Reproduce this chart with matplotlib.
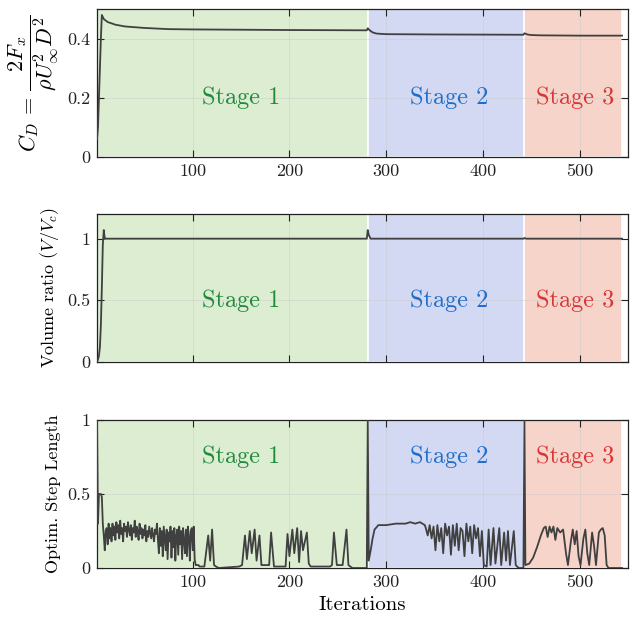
import matplotlib
matplotlib.use("agg")
import numpy as np
import matplotlib.pyplot as plt

plt.rcParams['font.family'] = 'serif'
plt.rcParams['font.serif'] = ['cmr10']
plt.rcParams['mathtext.fontset'] = 'cm'
plt.rcParams['axes.formatter.use_mathtext'] = True

# stage limits (iterations)
stages = [(1, 281), (281, 443), (443, 544)]
stage_names = ['Stage 1', 'Stage 2', 'Stage 3']
stage_text_x = [150, 365, 495]

# drag coefficient
cd_it = [1, 2, 3, 4, 5, 6, 8, 12, 20, 30, 50, 75, 100, 150, 200, 280,
         281, 283, 286, 290, 300, 350, 442,
         443, 446, 450, 460, 500, 544]
cd_val = [0.06, 0.10, 0.20, 0.30, 0.40, 0.48, 0.466, 0.456, 0.447, 0.441, 0.436, 0.432, 0.431, 0.430, 0.429, 0.428,
          0.435, 0.428, 0.421, 0.417, 0.415, 0.414, 0.413,
          0.418, 0.414, 0.412, 0.411, 0.410, 0.410]

# volume ratio
vol_it = [1, 2, 3, 4, 5, 6, 7, 8, 9, 10, 280, 281, 282, 284, 286, 442, 443, 445, 544]
vol_val = [0.0, 0.02, 0.05, 0.12, 0.30, 0.60, 0.95, 1.07, 1.0, 1.0, 1.0, 1.07, 1.03, 1.0, 1.0, 1.0, 1.005, 1.0, 1.0]

# optimiser step length, stage 1 (iterations 1..107)
step_s1 = [1.0, 0.30, 0.50, 0.50, 0.50, 0.48, 0.30, 0.22, 0.12, 0.25,
           0.27, 0.16, 0.30, 0.20, 0.27, 0.18, 0.30, 0.22, 0.28, 0.19,
           0.31, 0.24, 0.29, 0.20, 0.32, 0.23, 0.27, 0.18, 0.30, 0.25,
           0.28, 0.21, 0.31, 0.26, 0.22, 0.29, 0.19, 0.27, 0.24, 0.32,
           0.21, 0.28, 0.25, 0.19, 0.30, 0.23, 0.27, 0.20, 0.26, 0.22,
           0.29, 0.18, 0.25, 0.21, 0.28, 0.24, 0.20, 0.27, 0.22, 0.18,
           0.26, 0.23, 0.30, 0.19,
           0.10, 0.27, 0.15, 0.25, 0.08, 0.28, 0.20, 0.12, 0.26, 0.06,
           0.24, 0.18, 0.28, 0.07, 0.25, 0.14, 0.27, 0.05, 0.22, 0.26,
           0.09, 0.28, 0.16, 0.25, 0.06, 0.27, 0.19, 0.10, 0.26, 0.08,
           0.28, 0.21, 0.05, 0.25, 0.27, 0.12,
           0.28, 0.06, 0.02, 0.02, 0.02, 0.02, 0.01]
# rest of the step length history (iteration, value)
step_it = [112, 116, 118, 120, 122, 124, 127, 148,
           151, 154, 156, 159, 161, 164, 166, 169, 171, 175, 179, 181, 184, 196,
           198, 200, 203, 205, 208, 210, 212, 214, 218, 220, 222, 242,
           244, 246, 249, 255, 259, 261, 265, 280,
           281, 282, 284, 286, 288, 292, 300, 310, 320, 325, 330, 335, 340,
           341, 343, 345, 347, 349, 351, 353, 355, 357, 359, 361, 363, 365, 367, 369,
           371, 373, 375, 377, 379, 381, 383, 385, 387, 389, 391, 393, 395, 397, 399,
           401, 404, 406, 408, 411, 413, 417, 419, 422, 424, 426, 428, 432, 434, 437, 442,
           443, 444, 448, 452, 456, 460, 463, 465, 467, 469, 471, 473, 475, 477, 480,
           483, 486, 488, 491, 493, 495, 497, 499, 501, 504, 506, 508, 510, 513, 515,
           517, 520, 522, 524, 526, 528, 530, 544]
step_val = [0.01, 0.22, 0.05, 0.26, 0.02, 0.01, 0.0, 0.01,
            0.02, 0.22, 0.06, 0.25, 0.10, 0.26, 0.05, 0.22, 0.02, 0.02, 0.02, 0.24, 0.01, 0.01,
            0.23, 0.08, 0.26, 0.10, 0.27, 0.04, 0.25, 0.12, 0.24, 0.03, 0.01, 0.01,
            0.02, 0.24, 0.02, 0.02, 0.26, 0.02, 0.0, 0.0,
            1.0, 0.05, 0.12, 0.20, 0.26, 0.29, 0.29, 0.30, 0.30, 0.31, 0.30, 0.31, 0.29,
            0.27, 0.22, 0.29, 0.20, 0.28, 0.12, 0.29, 0.18, 0.27, 0.10, 0.30, 0.22, 0.28, 0.09, 0.29,
            0.15, 0.30, 0.12, 0.27, 0.25, 0.08, 0.30, 0.18, 0.28, 0.10, 0.29, 0.20, 0.27, 0.08, 0.25,
            0.02, 0.01, 0.26, 0.02, 0.27, 0.03, 0.27, 0.02, 0.24, 0.05, 0.25, 0.02, 0.25, 0.02, 0.0, 0.0,
            1.0, 0.02, 0.03, 0.07, 0.14, 0.22, 0.27, 0.28, 0.21, 0.28, 0.24, 0.28, 0.19, 0.27, 0.24,
            0.26, 0.10, 0.02, 0.18, 0.26, 0.16, 0.25, 0.08, 0.02, 0.20, 0.26, 0.10, 0.02, 0.24, 0.15,
            0.02, 0.24, 0.26, 0.27, 0.22, 0.02, 0.0, 0.0]

stage_bg = ['#dcedd2', '#d4d9f3', '#f6d4c9']
stage_fg = ['#218a3b', '#1f6ecb', '#d93636']
line_c = '#404040'

fig = plt.figure(figsize=(6.32, 6.21), dpi=100)
pos = [[0.1535, 0.7472, 0.840, 0.2383],
       [0.1535, 0.4171, 0.840, 0.2383],
       [0.1535, 0.0853, 0.840, 0.2383]]
axs = [fig.add_axes(p) for p in pos]

it1 = np.arange(1, len(step_s1) + 1)
series = [(cd_it, cd_val), (vol_it, vol_val),
          (np.concatenate([it1, step_it]), np.concatenate([step_s1, step_val]))]
ylims = [(0, 0.5), (0, 1.2), (0, 1)]
yticks = [[0, 0.2, 0.4], [0, 0.5, 1], [0, 0.5, 1]]
yticklabels = [['0', '0.2', '0.4'], ['0', '0.5', '1'], ['0', '0.5', '1']]
text_y = [0.2, 0.5, 0.75]
ylabels = [r'$C_D\,=\,\dfrac{2F_x}{\rho U_\infty^2 D^2}$', r'Volume ratio $(V/V_c)$', 'Optim. Step Length']
ylabel_size = [16, 13, 13]

for k, ax in enumerate(axs):
    for (a, b), c in zip(stages, stage_bg):
        ax.axvspan(a, b, facecolor=c, edgecolor='white', linewidth=1.2, zorder=0)
    ax.grid(True, color='#c8c8c8', linewidth=0.6, alpha=0.5, zorder=1)
    x, y = series[k]
    ax.plot(x, y, color=line_c, linewidth=1.3, zorder=3)
    for s, xt in enumerate(stage_text_x):
        ax.text(xt, text_y[k], stage_names[s], color=stage_fg[s], fontsize=17.5,
                ha='center', va='center', zorder=4)
    ax.set_xlim(1, 550)
    ax.set_ylim(*ylims[k])
    ax.set_xticks([100, 200, 300, 400, 500])
    ax.set_xticklabels(['100', '200', '300', '400', '500'])
    ax.set_yticks(yticks[k])
    ax.set_yticklabels(yticklabels[k])
    ax.tick_params(direction='in', top=True, right=True, length=5, width=0.8,
                   labelsize=13, colors='#222222', pad=5)
    for sp in ax.spines.values():
        sp.set_color('#222222')
        sp.set_linewidth(0.9)
    ax.set_ylabel(ylabels[k], fontsize=ylabel_size[k])

axs[1].set_xticklabels([])
axs[2].set_xlabel('Iterations', fontsize=15)

fig.savefig('out.png', dpi=100)
